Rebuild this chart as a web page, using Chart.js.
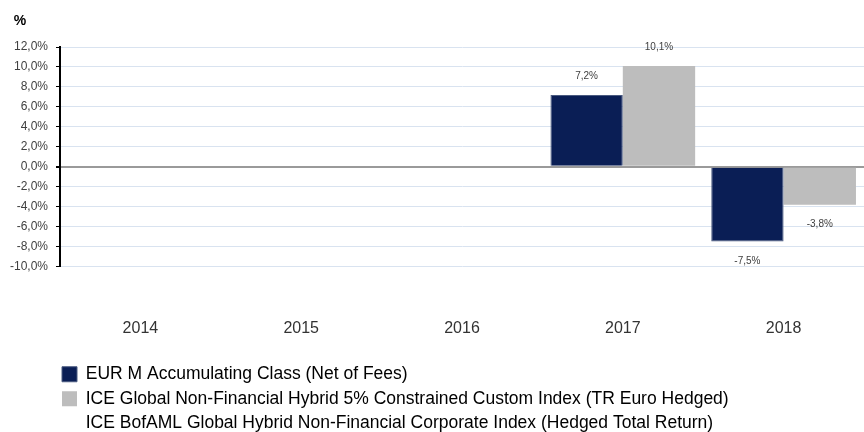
<!DOCTYPE html>
<html>
<head>
<meta charset="utf-8">
<script src="https://cdn.jsdelivr.net/npm/chart.js@4/dist/chart.umd.min.js"></script>
<style>
  html, body { margin: 0; padding: 0; background: #fff; }
  #wrap { width: 864px; height: 432px; }
</style>
</head>
<body>
<div id="wrap"><canvas id="chart" width="864" height="432"></canvas></div>
<script>
// data
const years = ["2014", "2015", "2016", "2017", "2018"];
const fundReturns = [null, null, null, 7.2, -7.5];
const customIndex = [null, null, null, 10.1, -3.8];
const bofamlIndex = [null, null, null, null, null];
const yMin = -10, yMax = 12, yStep = 2;

const seriesNames = [
  "EUR M Accumulating Class (Net of Fees)",
  "ICE Global Non-Financial Hybrid 5% Constrained Custom Index (TR Euro Hedged)",
  "ICE BofAML Global Hybrid Non-Financial Corporate Index (Hedged Total Return)"
];

const fmt = v => v.toFixed(1).replace(".", ",") + "%";

// value labels above / below the bars
const barLabels = {
  id: "barLabels",
  afterDatasetsDraw(chart) {
    const ctx = chart.ctx;
    ctx.save();
    ctx.font = "10px 'Liberation Sans', Arial, sans-serif";
    ctx.fillStyle = "#404040";
    ctx.textAlign = "center";
    ctx.textBaseline = "middle";
    [0, 1].forEach(di => {
      const meta = chart.getDatasetMeta(di);
      meta.data.forEach((bar, i) => {
        const v = chart.data.datasets[di].data[i];
        if (v === null) return;
        const y = v >= 0 ? bar.y - 19 : bar.y + 20;
        ctx.fillText(fmt(v), bar.x, y);
      });
    });
    ctx.restore();
  }
};

// "%" unit at the top left, legend moved to line up with the plot
const extras = {
  id: "extras",
  afterLayout(chart) {
    chart.legend.left = 55;
  },
  afterDraw(chart) {
    const ctx = chart.ctx;
    ctx.save();
    ctx.font = "bold 14px 'Liberation Sans', Arial, sans-serif";
    ctx.fillStyle = "#000";
    ctx.textAlign = "center";
    ctx.textBaseline = "middle";
    ctx.fillText("%", 20, 21);
    ctx.restore();
  }
};

new Chart(document.getElementById("chart"), {
  type: "bar",
  data: {
    labels: years,
    datasets: [
      { label: seriesNames[0], data: fundReturns, backgroundColor: "#0a1e55", borderColor: "#4a5a80", borderWidth: 1 },
      { label: seriesNames[1], data: customIndex, backgroundColor: "#bdbdbd" },
      { label: seriesNames[2], data: bofamlIndex, type: "line",
        backgroundColor: "rgba(0,0,0,0)", borderColor: "rgba(0,0,0,0)", borderWidth: 0, pointRadius: 0 }
    ]
  },
  options: {
    responsive: false,
    animation: false,
    layout: { padding: { left: 10, top: 47, right: 0, bottom: -10 } },
    datasets: { bar: { categoryPercentage: 0.9, barPercentage: 1.0 } },
    scales: {
      x: {
        grid: { display: false },
        border: { display: false },
        afterFit(scale) { scale.height = 92; },
        ticks: { padding: 44, color: "#333", font: { family: "'Liberation Sans', Arial, sans-serif", size: 16 } }
      },
      y: {
        min: yMin,
        max: yMax,
        afterFit(scale) { scale.width = 50; },
        border: { color: "#000", width: 2 },
        grid: {
          color: c => (c.tick && c.tick.value === 0 ? "#9a9a9a" : "#d9e3f0"),
          lineWidth: c => (c.tick && c.tick.value === 0 ? 2 : 1),
          tickColor: "#000",
          tickLength: 4
        },
        ticks: {
          stepSize: yStep,
          autoSkip: false,
          padding: 8,
          color: "#404040",
          font: { family: "'Liberation Sans', Arial, sans-serif", size: 12 },
          callback: v => fmt(v)
        }
      }
    },
    plugins: {
      legend: {
        position: "bottom",
        align: "start",
        labels: {
          color: "#000",
          boxWidth: 15,
          boxHeight: 15,
          padding: 7,
          font: { family: "'Liberation Sans', Arial, sans-serif", size: 17.5 }
        }
      },
      tooltip: { enabled: false }
    }
  },
  plugins: [barLabels, extras]
});
</script>
</body>
</html>
